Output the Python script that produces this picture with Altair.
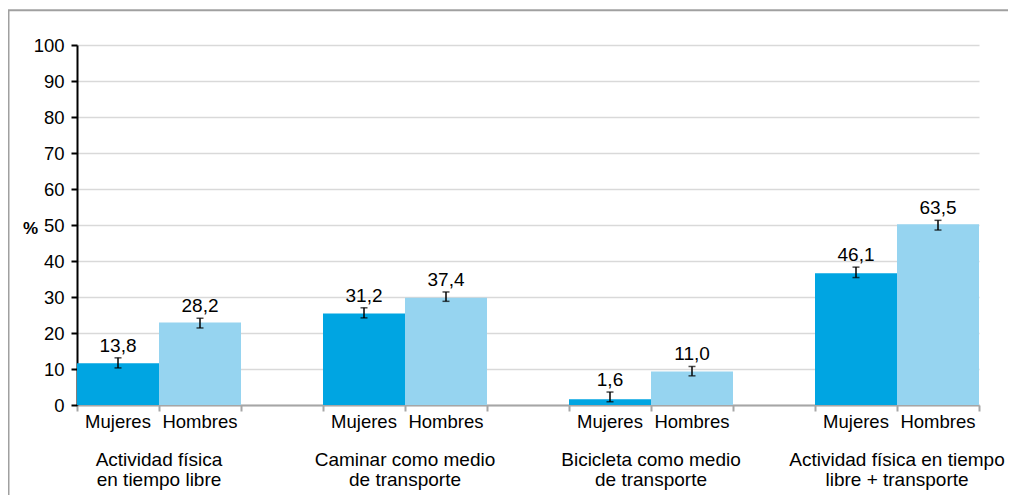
import altair as alt
import pandas as pd

groups = ["Actividad física\nen tiempo libre", "Caminar como medio\nde transporte",
          "Bicicleta como medio\nde transporte", "Actividad física en tiempo\nlibre + transporte"]
sexes = ["Mujeres", "Hombres"]
colors = ["#00A5E2", "#96D4F0"]

bar_mujeres = [11.6, 25.4, 1.6, 36.6]
bar_hombres = [22.9, 29.8, 9.3, 50.2]
err_lo_mujeres = [10.3, 24.2, 0.9, 35.4]
err_hi_mujeres = [13.1, 27.0, 3.6, 38.3]
err_lo_hombres = [21.4, 28.8, 8.1, 48.6]
err_hi_hombres = [24.1, 31.4, 10.7, 51.3]
labels_mujeres = ["13,8", "31,2", "1,6", "46,1"]
labels_hombres = ["28,2", "37,4", "11,0", "63,5"]
y_ticks = [0, 10, 20, 30, 40, 50, 60, 70, 80, 90, 100]

FONT = "Liberation Sans"

rows = []
for g, name in enumerate(groups):
    for s, sex in enumerate(sexes):
        vals = bar_mujeres if s == 0 else bar_hombres
        lo = err_lo_mujeres if s == 0 else err_lo_hombres
        hi = err_hi_mujeres if s == 0 else err_hi_hombres
        lab = labels_mujeres if s == 0 else labels_hombres
        slot = 3 * g + s
        rows.append({"group": name, "sex": sex, "x0": slot, "x1": slot + 1,
                     "xc": slot + 0.5, "value": vals[g], "lo": lo[g], "hi": hi[g],
                     "label": lab[g]})
df = pd.DataFrame(rows)
gdf = pd.DataFrame({"group": groups, "gc": [3 * g + 1 for g in range(len(groups))]})

xscale = alt.Scale(domain=[0, 11], nice=False, zero=False)
yscale = alt.Scale(domain=[0, 100], nice=False)

xaxis = alt.Axis(values=list(range(12)), labels=False, title=None, grid=False,
                 domainColor="#a6a6a6", domainWidth=2, tickColor="#a6a6a6",
                 tickWidth=2, tickSize=6)
yaxis = alt.Axis(values=y_ticks, title="%", titleAngle=0, titleX=-47, titleY=183,
                 titleAlign="center", titleBaseline="middle", titleFontWeight="bold",
                 titleFontSize=17, titleFont=FONT, titleColor="#000000",
                 labelFont=FONT, labelFontSize=18.5, labelColor="#000000",
                 labelPadding=7, labelOverlap=False, domainColor="#000000", domainWidth=2,
                 tickColor="#000000", tickWidth=2, tickSize=6,
                 gridColor="#d9d9d9", gridWidth=1.6)


def X(field):
    return alt.X(field, scale=xscale, axis=xaxis)


def Y(field):
    return alt.Y(field, scale=yscale, axis=yaxis)


base = alt.Chart(df)

bars = base.mark_bar(cornerRadius=0).encode(
    x=X("x0:Q"), x2="x1:Q",
    y=Y("value:Q"), y2=alt.datum(0),
    color=alt.Color("sex:N", scale=alt.Scale(domain=sexes, range=colors), legend=None),
)

err = base.mark_rule(color="#000000", strokeWidth=1.5).encode(
    x=X("xc:Q"), y=Y("lo:Q"), y2="hi:Q")
cap_lo = base.mark_tick(color="#000000", orient="horizontal", size=7, thickness=1.5).encode(
    x=X("xc:Q"), y=Y("lo:Q"))
cap_hi = base.mark_tick(color="#000000", orient="horizontal", size=7, thickness=1.5).encode(
    x=X("xc:Q"), y=Y("hi:Q"))

vlabels = base.mark_text(font=FONT, fontSize=19, color="#000000", baseline="alphabetic",
                         dy=-6).encode(
    x=X("xc:Q"), y=Y("hi:Q"), text="label:N")

sexlabels = base.mark_text(font=FONT, fontSize=18.5, color="#000000",
                           baseline="alphabetic").encode(
    x=X("xc:Q"), y=alt.value(383), text="sex:N")

glabels = alt.Chart(gdf).mark_text(font=FONT, fontSize=19, color="#000000",
                                   baseline="alphabetic", lineBreak="\n",
                                   lineHeight=19.5).encode(
    x=X("gc:Q"), y=alt.value(421), text="group:N")

one = pd.DataFrame({"a": [0]})
frame_left = alt.Chart(one).mark_rule(color="#a0a0a0", strokeWidth=2).encode(
    x=alt.value(-68.5), y=alt.value(-35), y2=alt.value(460))
frame_top = alt.Chart(one).mark_rule(color="#a0a0a0", strokeWidth=2).encode(
    x=alt.value(-69), x2=alt.value(940), y=alt.value(-34.7))

chart = alt.layer(bars, err, cap_lo, cap_hi, vlabels, sexlabels, glabels,
                  frame_left, frame_top).properties(
    width=902, height=360,
    autosize=alt.AutoSizeParams(type="none"),
    padding={"left": 69, "top": 37, "right": 29, "bottom": 90},
    background="#ffffff",
).configure_view(stroke=None)

chart.save("out.html", embed_options={"renderer": "svg", "actions": False})
